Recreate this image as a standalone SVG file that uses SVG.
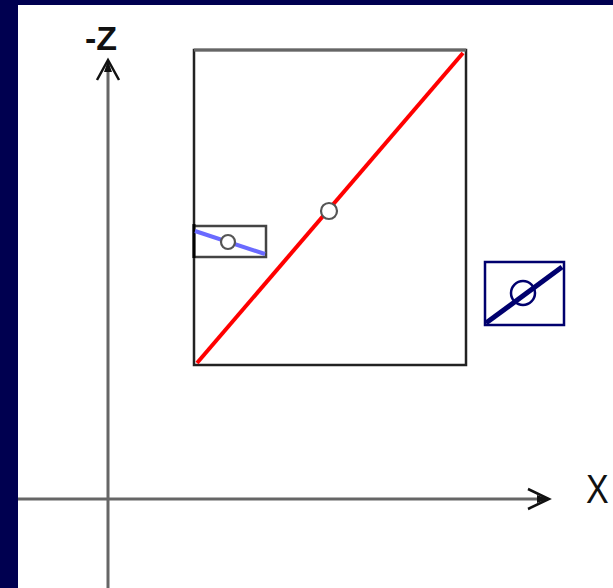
<svg xmlns="http://www.w3.org/2000/svg" width="613" height="588" viewBox="0 0 613 588">
<style>
.axis{stroke:#666;stroke-width:3;fill:none}
.head{stroke:#111;stroke-width:2.5;fill:none;stroke-linejoin:miter}
.lbl{font-family:"Liberation Sans",Arial,sans-serif;fill:#111}
.hole{fill:#fff;stroke:#555;stroke-width:2.2}
</style>
<rect x="0" y="0" width="613" height="588" fill="#000050"/>
<rect x="18" y="5" width="595" height="583" fill="#fff"/>
<g id="connectors">
  <line class="axis" x1="108" y1="62" x2="108" y2="588"/>
  <line class="axis" x1="18" y1="499" x2="546" y2="499"/>
  <polyline class="head" points="97,80 108,60 119,80"/>
  <polygon points="108,61 104,72 112,72" fill="#111"/>
  <polyline class="head" points="528,489 549,499 528,509"/>
  <polygon points="548,499 537,495 537,503" fill="#111"/>
</g>
<g id="label-z"><text class="lbl" x="85" y="50" font-size="34" font-weight="bold">-Z</text></g>
<g id="label-x"><text class="lbl" x="586" y="503" font-size="34" transform="translate(586 503) scale(1 1.2) translate(-586 -503)">X</text></g>
<g id="big-box">
  <rect x="194" y="50" width="272" height="315" fill="#fff" stroke="#222" stroke-width="2.5"/>
  <line x1="194" y1="50" x2="466" y2="50" stroke="#666" stroke-width="3"/>
  <line x1="197" y1="363" x2="463" y2="53" stroke="#f00" stroke-width="4"/>
  <circle class="hole" cx="329" cy="211" r="8"/>
</g>
<g id="small-box">
  <rect x="194" y="226" width="72" height="31" fill="#fff" stroke="#444" stroke-width="2.5"/>
  <line x1="194" y1="224" x2="194" y2="258" stroke="#000" stroke-width="3"/>
  <line x1="195" y1="231" x2="265" y2="254" stroke="#6a6aff" stroke-width="4"/>
  <circle class="hole" cx="228" cy="242" r="7"/>
</g>
<g id="navy-box">
  <rect x="485" y="262" width="79" height="63" fill="#fff" stroke="#00006e" stroke-width="2.5"/>
  <line x1="486" y1="323" x2="562" y2="267" stroke="#00006e" stroke-width="5"/>
  <circle cx="523" cy="293" r="12" fill="none" stroke="#00006e" stroke-width="2.5"/>
</g>
</svg>
